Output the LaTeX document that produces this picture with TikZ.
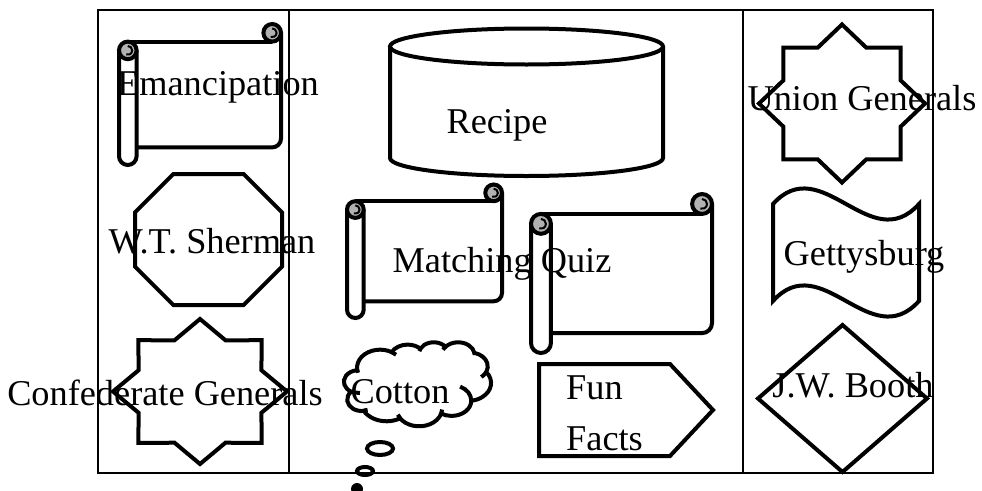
\documentclass[tikz,border=0pt]{standalone}
\usepackage{fontspec}
\setmainfont{Liberation Serif}

% horizontal scroll: left, top, right, bottom, roll size
\newcommand\hscroll[5]{%
  \pgfmathsetmacro\sL{#1}\pgfmathsetmacro\sT{#2}%
  \pgfmathsetmacro\sR{#3}\pgfmathsetmacro\sB{#4}%
  \pgfmathsetmacro\sC{#5}\pgfmathsetmacro\sH{#5/2}\pgfmathsetmacro\sQ{#5/4}%
  \draw[outline] (\sL+\sH,\sT+\sC) -- (\sR-\sH,\sT+\sC);
  \draw[outline] (\sR,\sT+\sH) -- (\sR,\sB-\sC-\sH)
     arc[start angle=0,delta angle=90,radius=\sH] -- (\sL+\sC,\sB-\sC);
  \draw[outline,fill=curl] (\sR-\sH,\sT+\sH) circle[radius=\sH];
  \draw[line width=2pt] (\sR-\sH,\sT+\sH-\sQ)
     arc[start angle=-90,delta angle=200,radius=\sQ];
  \draw[outline,fill=white] (\sL,\sT+\sC+\sH) -- (\sL,\sB-\sH)
     arc[start angle=180,delta angle=-180,radius=\sH] -- (\sL+\sC,\sT+\sC+\sH);
  \draw[outline,fill=curl] (\sL+\sH,\sT+\sC+\sH) circle[radius=\sH];
  \draw[line width=2pt] (\sL+\sH,\sT+\sC+\sH-\sQ)
     arc[start angle=-90,delta angle=200,radius=\sQ];
}

% eight-pointed star: centre x, centre y, x radius, y radius
\newcommand\stareight[4]{%
  \draw[outline] ({#1+#3},#2)
    \foreach \k in {1,...,15}{
      -- ({#1+#3*(1-0.235*mod(\k,2))*cos(\k*22.5)},{#2+#4*(1-0.235*mod(\k,2))*sin(\k*22.5)})
    } -- cycle;
}

% arc with a visual start angle and sweep (degrees), radii in grid units
\newcommand\oarc[4]{%
  \pgfextra{%
    \pgfmathsetmacro\oA{atan2((#3)*sin(#1),(#4)*cos(#1))}%
    \pgfmathsetmacro\oB{atan2((#3)*sin((#1)+(#2)),(#4)*cos((#1)+(#2)))}%
    \pgfmathsetmacro\oD{\oB-\oA}%
    \pgfmathsetmacro\oD{\oD-360*round((\oD-(#2))/360)}%
  }
  arc[start angle=\oA,delta angle=\oD,x radius=#3,y radius=#4]
}

\colorlet{curl}{black!30}

\begin{document}
\begin{tikzpicture}[x=1pt,y=-1pt,
  outline/.style={line width=4pt,line join=miter,black},
  frame/.style={line width=2pt,black},
  lbl/.style={font=\fontsize{36.3}{42}\selectfont,inner sep=0pt,anchor=base}]
\useasboundingbox (0,0) rectangle (982,490);

% frame and column dividers
\draw[frame] (98,10) rectangle (933,473);
\draw[frame] (289,10) -- (289,473);
\draw[frame] (743,10) -- (743,473);

% left column
\hscroll{119}{24}{281}{165}{17.6}
\draw[outline] (173.4,174) -- (243.6,174) -- (282,212.4) -- (282,266.6)
  -- (243.6,305) -- (173.4,305) -- (135,266.6) -- (135,212.4) -- cycle;
\stareight{200}{391.5}{87}{72.5}

% middle column
\draw[outline] (390,46.5) -- (390,158)
  arc[start angle=180,delta angle=-180,x radius=136.5,y radius=18] -- (663,46.5);
\draw[outline] (526.5,46.5) ellipse[x radius=136.5,y radius=18];
\hscroll{347}{184.5}{502}{318}{16.7}
\hscroll{531}{194}{712}{353}{19.9}

% thought cloud on a 432 x 432 grid
\begin{scope}[shift={(344,342)},x=0.34028pt,y=-0.19444pt]
\draw[outline] (39.00,143.70)
  \oarc{-190.49}{123.78}{67.53}{91.90}
  \oarc{-144.10}{89.95}{53.33}{72.67}
  \oarc{-145.81}{99.72}{43.65}{59.45}
  \oarc{-130.99}{117.24}{48.57}{65.95}
  \oarc{-78.71}{109.03}{53.33}{72.73}
  \oarc{-46.27}{130.27}{67.75}{92.20}
  \oarc{0.625}{114.03}{57.85}{78.67}
  \oarc{22.45}{115.17}{67.52}{92.15}
  \oarc{66.24}{75.71}{77.20}{105.43}
  \oarc{-274.94}{146.74}{43.60}{59.18}
  \oarc{-246.83}{152.52}{43.45}{59.45}
  -- cycle;
\draw[outline]
  (46.93,261.77) \oarc{86.74}{26.43}{43.45}{59.45}
  (69.28,348.99) \oarc{73.61}{11.45}{43.60}{59.18}
  (164.78,390.90) \oarc{137.62}{14.08}{67.52}{92.15}
  (288.27,347.51) \oarc{6.45}{16.00}{67.52}{92.15}
  (341.29,229.54) \oarc{-70.29}{70.92}{57.85}{78.67}
  (417.98,153.54) \oarc{30.32}{27.75}{53.33}{72.73}
  (383.24,54.26) \oarc{-13.74}{14.86}{48.57}{65.95}
  (290.78,39.52) \oarc{-149.18}{18.20}{48.57}{65.95}
  (221.41,47.20) \oarc{-163.49}{17.69}{43.65}{59.45}
  (140.00,51.92) \oarc{-66.71}{12.32}{67.53}{91.90}
  (41.27,157.89) \oarc{157.65}{11.86}{67.53}{91.90};
\end{scope}
\draw[outline] (380,448.5) ellipse[x radius=13,y radius=6.5];
\draw[outline] (365,471) ellipse[x radius=8,y radius=4];
\fill (357,489) circle[radius=6];

% pentagon arrow
\draw[outline] (539,364) -- (670,364) -- (713,410) -- (670,456) -- (539,456) -- cycle;

% right column
\stareight{842}{103.5}{83}{79}
\draw[outline] (773,204) .. controls (821.7,150.1) and (870.3,257.9) .. (919,204)
  -- (919,301) .. controls (870.3,354.9) and (821.7,247.1) .. (773,301) -- cycle;
\draw[outline] (842.5,325) -- (927,398.5) -- (842.5,472) -- (758,398.5) -- cycle;

% labels
\node[lbl] (emancipation) at (218,95) {Emancipation};
\node[lbl] (sherman) at (212,253) {W.T. Sherman};
\node[lbl] (confederate) at (165,405) {Confederate Generals};
\node[lbl] (recipe) at (497,133) {Recipe};
\node[lbl] (quiz) at (502,272) {Matching Quiz};
\node[lbl] (cotton) at (400,403) {Cotton};
\node[lbl,anchor=base west] (fun) at (566,399) {Fun};
\node[lbl,anchor=base west] (facts) at (566,450) {Facts};
\node[lbl] (union) at (862,110) {Union Generals};
\node[lbl] (gettysburg) at (864,265) {Gettysburg};
\node[lbl] (booth) at (853,397) {J.W. Booth};
\end{tikzpicture}
\end{document}
